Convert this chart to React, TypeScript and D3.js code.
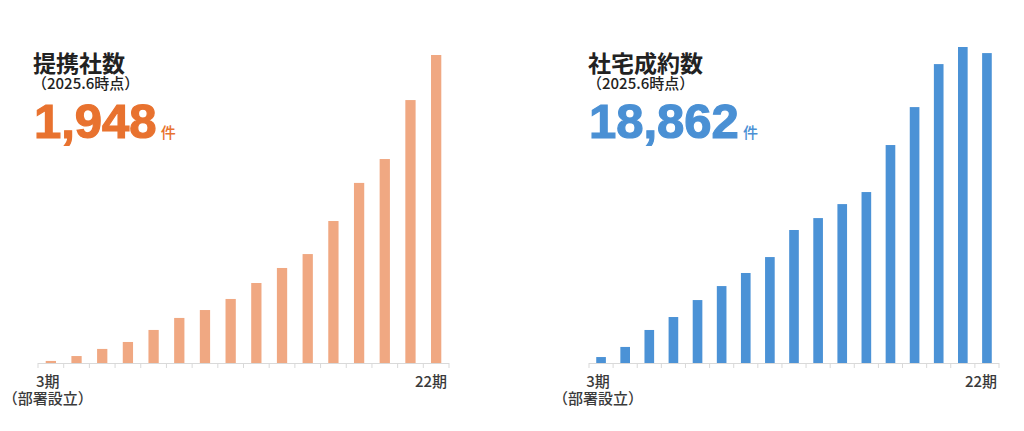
import React, { useEffect, useRef } from 'react';
import * as d3 from 'd3';

// 提携社数 (cumulative, 16 periods)
const partnerValues = [13, 44, 89, 133, 209, 285, 335, 405, 506, 601, 689, 898, 1139, 1290, 1663, 1948];
// 社宅成約数 (per period, 17 periods)
const contractValues = [46, 124, 255, 355, 486, 594, 695, 818, 1027, 1119, 1227, 1320, 1683, 1976, 2308, 2440, 2393];

const firstLabel = ['3期', '（部署設立）'];
const lastLabel = '22期';

interface PanelSpec {
  title: string;
  total: string;
  values: number[];
  barColor: string;
  textColor: string;
  x0: number;
  x1: number;
  topY: number;
  textX: number;
}

const panels: PanelSpec[] = [
  {
    title: '提携社数',
    total: '1,948',
    values: partnerValues,
    barColor: '#f0a882',
    textColor: '#e8722f',
    x0: 38,
    x1: 449,
    topY: 55,
    textX: 33,
  },
  {
    title: '社宅成約数',
    total: '18,862',
    values: contractValues,
    barColor: '#4b92d6',
    textColor: '#4a90d4',
    x0: 589,
    x1: 999,
    topY: 47,
    textX: 588,
  },
];

const BASE_Y = 363;
const JP_FONT = '"Noto Sans CJK JP", "Noto Sans", sans-serif';
const NUM_FONT = '"Liberation Sans", Arial, sans-serif';

const App: React.FC = () => {
  const svgRef = useRef<SVGSVGElement>(null);

  useEffect(() => {
    if (!svgRef.current) return;
    const svg = d3.select(svgRef.current);
    svg.selectAll('*').remove();

    svg.append('rect').attr('width', 1024).attr('height', 431).attr('fill', '#fff');

    panels.forEach(p => {
      const g = svg.append('g');
      const idx = p.values.map((_, i) => i);

      const x = d3.scaleBand<number>()
        .domain(idx)
        .range([p.x0, p.x1])
        .paddingInner(0.6)
        .paddingOuter(0.3);

      const y = d3.scaleLinear()
        .domain([0, d3.max(p.values) as number])
        .range([BASE_Y, p.topY]);

      // bars
      g.selectAll('rect.bar')
        .data(p.values)
        .enter()
        .append('rect')
        .attr('class', 'bar')
        .attr('x', (_, i) => x(i) as number)
        .attr('y', d => y(d))
        .attr('width', x.bandwidth())
        .attr('height', d => BASE_Y - y(d))
        .attr('fill', p.barColor);

      // axis line and ticks between bands
      g.append('line')
        .attr('x1', p.x0)
        .attr('x2', p.x1)
        .attr('y1', BASE_Y + 0.5)
        .attr('y2', BASE_Y + 0.5)
        .attr('stroke', '#d9d9d9')
        .attr('stroke-width', 1);

      const step = (p.x1 - p.x0) / p.values.length;
      g.selectAll('line.tick')
        .data(d3.range(p.values.length + 1))
        .enter()
        .append('line')
        .attr('class', 'tick')
        .attr('x1', i => p.x0 + i * step)
        .attr('x2', i => p.x0 + i * step)
        .attr('y1', BASE_Y)
        .attr('y2', BASE_Y + 5)
        .attr('stroke', '#d9d9d9')
        .attr('stroke-width', 1);

      // category labels at both ends
      const firstX = (x(0) as number) + x.bandwidth() / 2 - 3;
      const label = (tx: number, ty: number, anchor: string, s: string) =>
        g.append('text')
          .attr('x', tx)
          .attr('y', ty)
          .attr('text-anchor', anchor)
          .attr('font-family', JP_FONT)
          .attr('font-weight', 500)
          .attr('font-size', 15)
          .attr('fill', '#3a3a3a')
          .text(s);
      label(firstX, 387, 'middle', firstLabel[0]);
      label(firstX, 404, 'middle', firstLabel[1]);
      label(p.x1 - 2, 387, 'end', lastLabel);

      // headings
      g.append('text')
        .attr('x', p.textX)
        .attr('y', 72)
        .attr('font-family', JP_FONT)
        .attr('font-weight', 700)
        .attr('font-size', 23)
        .attr('fill', '#222')
        .text(p.title);

      g.append('text')
        .attr('x', p.textX - 1)
        .attr('y', 89)
        .attr('font-family', JP_FONT)
        .attr('font-weight', 500)
        .attr('font-size', 15)
        .attr('fill', '#222')
        .text('（2025.6時点）');

      const big = g.append('text')
        .attr('x', p.textX + 1)
        .attr('y', 138)
        .attr('font-family', NUM_FONT)
        .attr('font-weight', 700)
        .attr('font-size', 49)
        .attr('fill', p.textColor)
        .attr('stroke', p.textColor)
        .attr('stroke-width', 1.2);
      big.append('tspan').text(p.total);
      big.append('tspan')
        .attr('dx', 4)
        .attr('font-family', JP_FONT)
        .attr('font-weight', 500)
        .attr('font-size', 15)
        .attr('stroke-width', 0)
        .text('件');
    });
  }, []);

  return (
    <div style={{ position: 'absolute', left: 0, top: 0 }}>
      <svg ref={svgRef} width={1024} height={431} style={{ display: 'block' }}></svg>
    </div>
  );
};

export default App;
